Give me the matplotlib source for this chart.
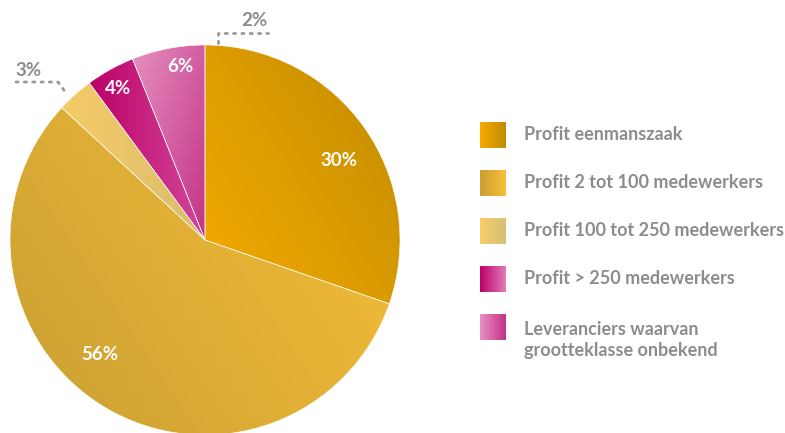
import matplotlib.pyplot as plt
import numpy as np
from matplotlib.colors import to_rgb

# Share per supplier group (percent)
categories = [
    "Profit eenmanszaak",
    "Profit 2 tot 100 medewerkers",
    "Profit 100 tot 250 medewerkers",
    "Profit > 250 medewerkers",
    "Leveranciers waarvan\ngrootteklasse onbekend",
]
values = [30, 56, 3, 4, 6]
pct_labels = ["30%", "56%", "3%", "4%", "6%"]
extra_label = "2%"

# gradient (start colour, end colour, direction in degrees) per slice
slice_grad = [
    ("#F6AB00", "#C08B00", 40),
    ("#C9A033", "#F8BE38", 30),
    ("#F6CB66", "#D9BD6E", 0),
    ("#BC0068", "#D2489A", 0),
    ("#E690C0", "#C23286", -40),
]
legend_grad = [
    ("#F6AB00", "#C08B00"),
    ("#C9A033", "#F8BE38"),
    ("#F8CE6C", "#D8BE74"),
    ("#BC0068", "#E27CB8"),
    ("#E890C2", "#C23286"),
]

W, H = 785, 433
fig = plt.figure(figsize=(W / 100, H / 100), dpi=100)
ax = fig.add_axes([0, 0, 1, 1])

cx, cy, R = 205, H - 240, 195


def gradient_image(c0, c1, angle, n=200):
    a = np.deg2rad(angle)
    xx, yy = np.meshgrid(np.linspace(0, 1, n), np.linspace(0, 1, n))
    t = xx * np.cos(a) + yy * np.sin(a)
    t = (t - t.min()) / (t.max() - t.min())
    c0, c1 = np.array(to_rgb(c0)), np.array(to_rgb(c1))
    return c0 + t[..., None] * (c1 - c0)


wedges, _ = ax.pie(values, center=(cx, cy), radius=R, startangle=90,
                   counterclock=False, frame=True,
                   wedgeprops=dict(edgecolor="white", linewidth=0.4))
ax.set_xlim(0, W)
ax.set_ylim(0, H)
ax.set_aspect("equal")
ax.axis("off")

# fill each slice with its own linear gradient
for w, (c0, c1, ang) in zip(wedges, slice_grad):
    ext = w.get_path().get_extents()
    img = gradient_image(c0, c1, ang)
    im = ax.imshow(img, extent=(ext.x0, ext.x1, ext.y0, ext.y1),
                   origin="lower", interpolation="bilinear", zorder=1.5,
                   aspect="auto")
    im.set_clip_path(w)
    w.set_facecolor("none")
    w.set_zorder(2)

# percentage labels inside / beside the slices
label_pos = [(339, 160), (100, 355), (28, 70), (118, 89), (180, 67)]
for i, (txt, (px, py)) in enumerate(zip(pct_labels, label_pos)):
    color = "#8C8C8C" if i == 2 else "white"
    ax.text(px, H - py, txt, ha="center", va="center", fontsize=13.5,
            fontweight="bold", color=color, family="Lato", zorder=3)

ax.text(254, H - 20, extra_label, ha="center", va="center", fontsize=13.5,
        fontweight="bold", color="#8C8C8C", family="Lato", zorder=3)

# dotted leader lines
dot = dict(color="#999999", linestyle=(0, (0.8, 2.2)), linewidth=2,
           dash_capstyle="round", zorder=3)
ax.plot([16, 58, 66], [H - 82, H - 82, H - 93], **dot)
ax.plot([218, 218, 268], [H - 43, H - 33, H - 33], **dot)

# legend with gradient swatches
sw_x, sw_size = 480, 26
sw_tops = [122, 170, 218, 266, 314]
for name, (c0, c1), top in zip(categories, legend_grad, sw_tops):
    img = gradient_image(c0, c1, 0, n=50)
    ax.imshow(img, extent=(sw_x, sw_x + sw_size, H - top - sw_size, H - top),
              origin="lower", interpolation="bilinear", aspect="auto", zorder=2)
    ty = H - top - 26 if "\n" in name else H - top - 13
    ax.text(524, ty, name, ha="left", va="center",
            fontsize=13, color="#8C8C8C", family="Lato", fontweight="bold",
            linespacing=1.3)

ax.set_xlim(0, W)
ax.set_ylim(0, H)
fig.savefig("out.png", dpi=100, facecolor="white")
